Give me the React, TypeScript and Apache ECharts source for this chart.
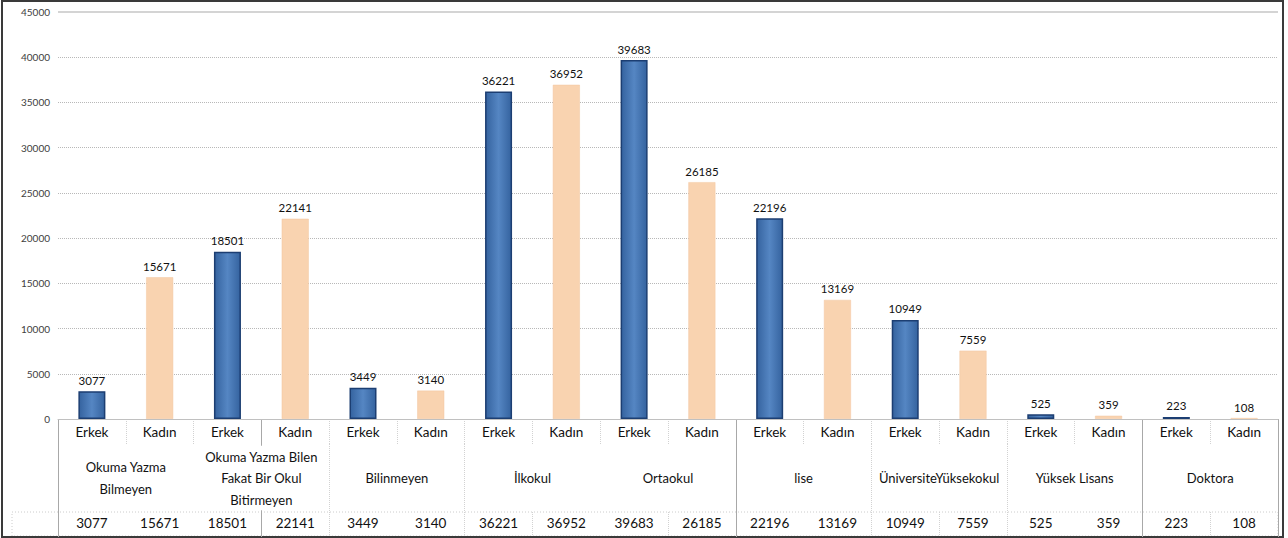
import React, { useEffect, useRef } from "react";
import * as echarts from "echarts";

const groups = [
  "Okuma Yazma\nBilmeyen",
  "Okuma Yazma Bilen\nFakat Bir Okul\nBitirmeyen",
  "Bilinmeyen",
  "İlkokul",
  "Ortaokul",
  "lise",
  "ÜniversiteYüksekokul",
  "Yüksek Lisans",
  "Doktora",
];
const genders = ["Erkek", "Kadın"];
const erkek = [3077, 18501, 3449, 36221, 39683, 22196, 10949, 525, 223];
const kadin = [15671, 22141, 3140, 36952, 26185, 13169, 7559, 359, 108];
const yTicks = { min: 0, max: 45000, interval: 5000 };

// table separator positions (slot boundary indices) as seen in the reference
const solidSeps = [0, 3, 10, 16];
const row1Seps = [1, 2, 4, 5, 6, 7, 8, 9, 11, 12, 13, 14, 15, 17];
const groupRowSeps = [4, 6, 12, 14];
const dataRowSeps = [4, 6, 7, 9, 12, 13, 14, 17];

const FONT = "Lato, 'Liberation Sans', sans-serif";

export default function App() {
  const ref = useRef<HTMLDivElement>(null);
  useEffect(() => {
    document.body.style.margin = "0";
    const chart = echarts.init(ref.current!, null, { renderer: "svg" });
    const cats: string[] = [];
    const values: number[] = [];
    const erkekData: (number | null)[] = [];
    const kadinData: (number | null)[] = [];
    groups.forEach((_, i) => {
      cats.push(genders[0], genders[1]);
      values.push(erkek[i], kadin[i]);
      erkekData.push(erkek[i], null);
      kadinData.push(null, kadin[i]);
    });
    const blue = new echarts.graphic.LinearGradient(0, 0, 1, 0, [
      { offset: 0, color: "#35639F" },
      { offset: 0.5, color: "#5586C3" },
      { offset: 1, color: "#35639F" },
    ]);
    const dotted = { color: "#d2d2d2", type: "dotted", width: 1 };
    const tickAxis = (offset: number, length: number, idx: number[], lineStyle: any) => ({
      type: "category",
      data: cats,
      position: "bottom",
      offset,
      z: 0,
      axisLine: { show: false },
      axisLabel: { show: false },
      axisTick: {
        show: true,
        length,
        lineStyle,
        interval: (i: number) => idx.includes(i),
      },
    });
    chart.setOption({
      animation: false,
      backgroundColor: "#fff",
      grid: { left: 58, right: 10, top: 12, bottom: 119 },
      yAxis: {
        type: "value",
        min: yTicks.min,
        max: yTicks.max,
        interval: yTicks.interval,
        axisLine: { show: false },
        axisTick: { show: false },
        axisLabel: {
          fontSize: 10,
          color: "#404040",
          margin: 8,
          fontFamily: FONT,
          formatter: (v: number) => String(v),
        },
        splitLine: { show: true, lineStyle: { type: "dotted", color: "#b8b8b8" } },
      },
      xAxis: [
        {
          type: "category",
          data: cats,
          position: "bottom",
          z: 5,
          axisLine: { show: true, lineStyle: { color: "#c0c0c0" } },
          axisTick: { show: false },
          axisLabel: { fontSize: 13.5, color: "#111", margin: 13, verticalAlign: "middle", fontFamily: FONT, interval: 0 },
        },
        {
          type: "category",
          data: groups,
          position: "bottom",
          z: 5,
          axisLine: { show: false },
          axisTick: { show: false },
          axisLabel: {
            fontSize: 13,
            color: "#111",
            margin: 59,
            verticalAlign: "middle",
            lineHeight: 21.5,
            fontFamily: FONT,
            interval: 0,
            backgroundColor: "#fff",
          },
        },
        {
          type: "category",
          data: values.map(String),
          position: "bottom",
          offset: 93,
          z: 5,
          axisLine: { show: false },
          axisTick: { show: false },
          axisLabel: { fontSize: 13.5, color: "#111", margin: 11, verticalAlign: "middle", fontFamily: FONT, interval: 0 },
        },
        tickAxis(0, 25, row1Seps, dotted),
        tickAxis(25, 68, groupRowSeps, dotted),
        tickAxis(93, 24, dataRowSeps, dotted),
        tickAxis(0, 118, solidSeps, { color: "#a8a8a8", width: 1 }),
      ],
      series: [
        {
          name: "Erkek",
          type: "bar",
          stack: "s",
          xAxisIndex: 0,
          barWidth: 27,
          data: erkekData,
          itemStyle: { color: blue, borderColor: "#1C3E72", borderWidth: 1.5 },
          label: { show: true, position: "top", distance: 5, fontSize: 11.5, color: "#111", fontFamily: FONT },
          markLine: {
            silent: true,
            symbol: "none",
            label: { show: false },
            lineStyle: { type: "solid", color: "#d4d4d4", width: 2 },
            data: [{ yAxis: yTicks.max }],
          },
        },
        {
          name: "Kadın",
          type: "bar",
          stack: "s",
          xAxisIndex: 0,
          barWidth: 27,
          data: kadinData,
          itemStyle: { color: "#F9D3B0", borderColor: "#F2C7A0", borderWidth: 0.5 },
          label: { show: true, position: "top", distance: 5, fontSize: 11.5, color: "#111", fontFamily: FONT },
        },
      ],
      graphic: [
        {
          type: "rect",
          shape: { x: 12, y: 512, width: 1266, height: 24 },
          style: { fill: "none", stroke: "#cccccc", lineWidth: 1, lineDash: [1, 2] },
        },
        {
          type: "rect",
          shape: { x: 2, y: 1, width: 1281, height: 536 },
          style: { fill: "none", stroke: "#3a3a3a", lineWidth: 2 },
        },
      ],
    });
    return () => chart.dispose();
  }, []);
  return <div ref={ref} style={{ width: 1288, height: 538 }} />;
}
